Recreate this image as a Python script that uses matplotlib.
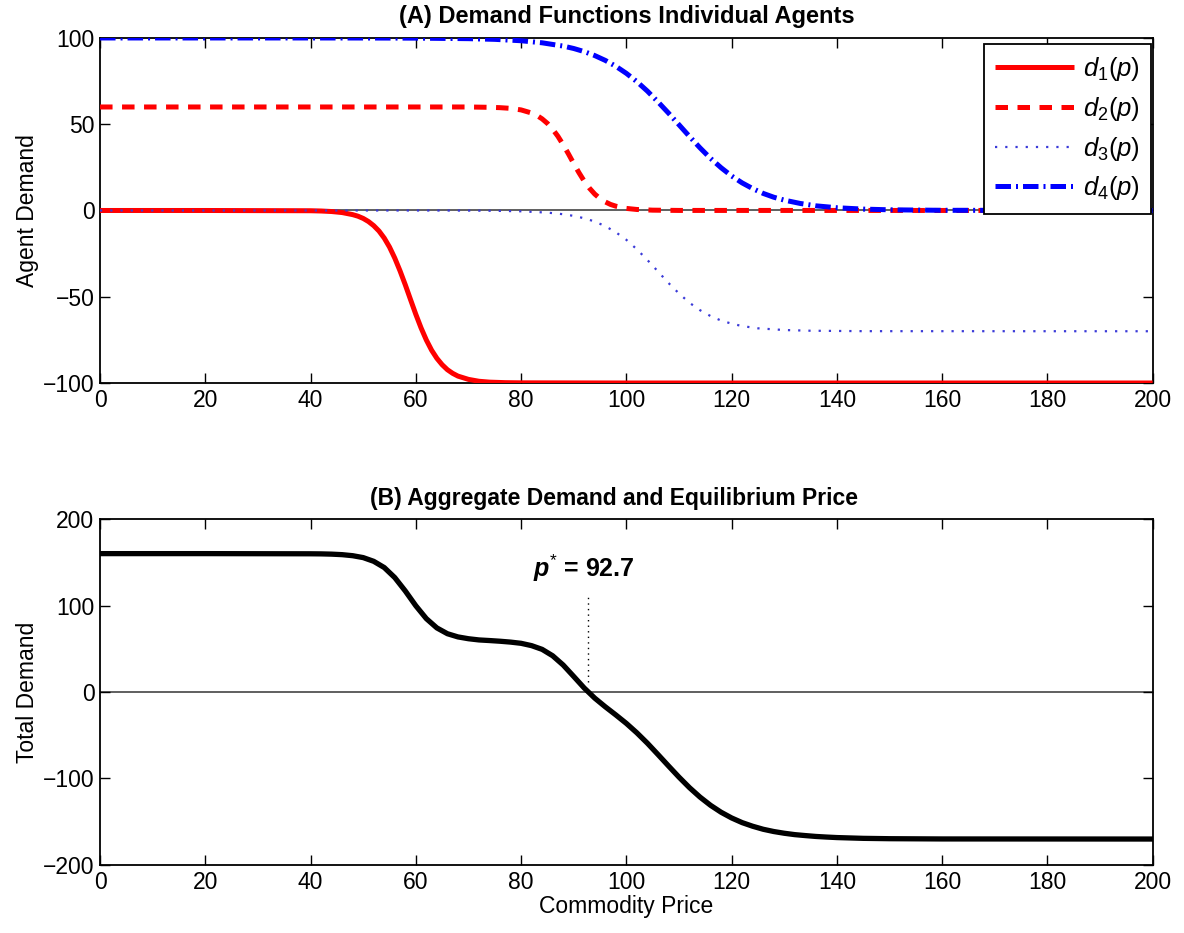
import matplotlib
matplotlib.use('Agg')
import matplotlib.pyplot as plt

plt.rcParams['font.family'] = ['Liberation Sans', 'DejaVu Sans']
plt.rcParams['mathtext.fontset'] = 'custom'
plt.rcParams['mathtext.rm'] = 'Liberation Sans'
plt.rcParams['mathtext.it'] = 'Liberation Sans:italic'
plt.rcParams['mathtext.bf'] = 'Liberation Sans:bold'
plt.rcParams['mathtext.bfit'] = 'Liberation Sans:bold:italic'

# ---------------- data ----------------
d1_x = [0, 20, 40, 42, 44, 46, 48, 49, 50, 51, 52, 53, 54, 55, 56, 57, 58, 59, 60, 61, 62,
        63, 64, 65, 66, 67, 68, 70, 72, 74, 77, 80, 100, 200]
d1_y = [0, 0, -0.15, -0.3, -0.6, -1.2, -2.4, -3.3, -4.6, -6.4, -8.8, -11.9, -16.0, -21.2,
        -27.6, -35.0, -43.1, -51.7, -60.2, -68.1, -75.1, -81.0, -85.7, -89.4, -92.3, -94.4,
        -96.0, -97.9, -99.0, -99.5, -99.8, -99.9, -100, -100]

d2_x = [0, 20, 40, 60, 70, 74, 76, 78, 80, 82, 83, 84, 85, 86, 87, 88, 89, 90, 91, 92, 93,
        94, 95, 96, 97, 98, 100, 102, 105, 110, 200]
d2_y = [60, 60, 60, 60, 60, 59.8, 59.6, 59.2, 58.3, 56.5, 55.1, 53.1, 50.5, 47.1, 43.0, 38.1,
        32.8, 27.2, 21.9, 17.0, 12.9, 9.5, 6.9, 4.96, 3.5, 2.5, 1.2, 0.58, 0.19, 0.03, 0]

d3_x = [0, 20, 40, 60, 70, 75, 80, 85, 88, 90, 92, 94, 96, 98, 100, 102, 104, 106, 108, 110,
        112, 114, 116, 118, 120, 122, 125, 130, 135, 145, 200]
d3_y = [0, 0, 0, 0, -0.07, -0.18, -0.48, -1.23, -2.17, -3.14, -4.5, -6.4, -9.1, -12.6, -17.0,
        -22.5, -28.7, -35.3, -42.0, -48.1, -53.5, -57.8, -61.2, -63.8, -65.6, -67.0, -68.3,
        -69.3, -69.7, -69.95, -70]

d4_x = [0, 20, 40, 50, 60, 70, 75, 80, 84, 88, 90, 92, 94, 96, 98, 100, 102, 104, 106, 108,
        110, 112, 114, 116, 118, 120, 122, 124, 126, 128, 130, 133, 136, 140, 145, 150, 160, 200]
d4_y = [100, 100, 100, 99.97, 99.9, 99.6, 99.2, 98.4, 97.2, 95.3, 93.9, 92.1, 89.8, 87.0, 83.6,
        79.5, 74.7, 69.2, 63.0, 56.5, 49.7, 42.9, 36.3, 30.2, 24.8, 20.0, 16.0, 12.7, 9.9, 7.7,
        6.0, 4.1, 2.7, 1.6, 0.8, 0.4, 0.1, 0]

total_x = [0, 20, 40, 42, 44, 46, 48, 50, 52, 54, 56, 58, 60, 62, 64, 66, 68, 70, 72, 74, 76,
           78, 80, 82, 84, 86, 88, 90, 92, 94, 96, 98, 100, 102, 104, 106, 108, 110, 112, 114,
           116, 118, 120, 122, 124, 126, 128, 130, 132, 134, 136, 138, 140, 145, 150, 160, 200]
total_y = [160, 160, 159.8, 159.7, 159.4, 158.8, 157.6, 155.4, 151.1, 143.9, 132.3, 116.8,
           99.7, 84.8, 74.1, 67.4, 63.7, 61.6, 60.2, 59.5, 58.7, 57.7, 56.3, 53.6, 49.3, 41.9,
           31.2, 18.0, 4.6, -7.1, -17.1, -26.5, -36.3, -47.2, -59.2, -72.2, -85.4, -98.4,
           -110.6, -121.5, -131.0, -139.0, -145.6, -151.0, -155.2, -158.7, -161.3, -163.3,
           -164.9, -166.0, -167.0, -167.7, -168.3, -169.2, -169.6, -169.9, -170]

p_star = 92.7
legend_labels = [r'$d_{1}(p)$', r'$d_{2}(p)$', r'$d_{3}(p)$', r'$d_{4}(p)$']
x_ticks = [0, 20, 40, 60, 80, 100, 120, 140, 160, 180, 200]
yA_ticks = [-100, -50, 0, 50, 100]
yB_ticks = [-200, -100, 0, 100, 200]

# ---------------- figure ----------------
FS = 16.5
fig = plt.figure(figsize=(11.84, 9.33), dpi=100)
axA = fig.add_axes([0.0845, 0.5895, 0.889, 0.3698])
axB = fig.add_axes([0.0845, 0.0729, 0.889, 0.3708])

red = '#ff0000'
blue = '#0000ff'
dotblue = '#3a3ad8'

for ax in (axA, axB):
    ax.axhline(0, color='#444444', lw=1.2, zorder=1)

axA.plot(d1_x, d1_y, color=red, lw=3.6, solid_capstyle='butt', label=legend_labels[0], zorder=3)
axA.plot(d2_x, d2_y, color=red, lw=3.6, dashes=(2.5, 1.9), label=legend_labels[1], zorder=3)
axA.plot(d3_x, d3_y, color=dotblue, lw=1.6, dashes=(1.0, 3.6), label=legend_labels[2], zorder=3)
axA.plot(d4_x, d4_y, color=blue, lw=3.6, dashes=(3.1, 1.0, 0.4, 1.0), label=legend_labels[3], zorder=3)

axB.plot(total_x, total_y, color='black', lw=3.8, zorder=3)
axB.plot([p_star, p_star], [12, 112], color='black', lw=1.0, dashes=(1, 3), zorder=2)
axB.text(92.0, 143, r'$\mathbfit{p}^{*}$ = 92.7', ha='center', va='center',
         fontsize=18, fontweight='bold')

axA.set_xlim(0, 200)
axA.set_ylim(-100, 100)
axA.set_yticks(yA_ticks)
axB.set_xlim(0, 200)
axB.set_ylim(-200, 200)
axB.set_yticks(yB_ticks)

for ax in (axA, axB):
    ax.set_xticks(x_ticks)
    ax.tick_params(direction='in', top=True, right=True, length=7, width=1.0,
                   labelsize=FS, pad=4)
    for sp in ax.spines.values():
        sp.set_linewidth(1.3)
        sp.set_color('black')

axA.set_title('(A) Demand Functions Individual Agents', fontsize=17, fontweight='bold', pad=11)
axB.set_title('(B) Aggregate Demand and Equilibrium Price', fontsize=16.5, fontweight='bold',
              pad=10, x=0.488)
axA.set_ylabel('Agent Demand', fontsize=FS, labelpad=3)
axB.set_ylabel('Total Demand', fontsize=FS, labelpad=3)
axB.set_xlabel('Commodity Price', fontsize=FS, labelpad=1)

leg = axA.legend(loc='upper right', bbox_to_anchor=(0.9985, 0.983), fontsize=18.5,
                 handlelength=3.05, handletextpad=0.35, labelspacing=0.45,
                 borderpad=0.45, fancybox=False, framealpha=1, borderaxespad=0)
leg.get_frame().set_edgecolor('black')
leg.get_frame().set_linewidth(1.3)

fig.savefig('out.png', dpi=100)
